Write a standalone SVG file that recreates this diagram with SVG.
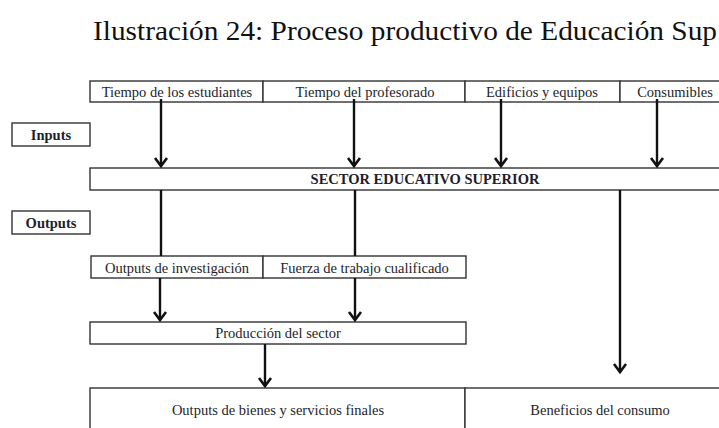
<svg xmlns="http://www.w3.org/2000/svg" width="719" height="428" viewBox="0 0 719 428">
<style>
.box{fill:#fff;stroke:#333;stroke-width:1.4}
.t{font-family:"Liberation Serif","Times New Roman",serif;font-size:14.5px;fill:#1e1e2a;text-anchor:middle}
.b{font-weight:bold}
.title{font-family:"Liberation Serif","Times New Roman",serif;font-size:28px;fill:#111}
.ln{stroke:#111;stroke-width:2.4;fill:none}
.arr{stroke:#111;stroke-width:2.4;fill:none;marker-end:url(#ah)}
</style>
<defs>
<marker id="ah" markerUnits="userSpaceOnUse" markerWidth="14" markerHeight="16" viewBox="-11 -8 14 16" refX="0" refY="0" orient="auto">
<path d="M-8,-6 L0,0 L-8,6" fill="none" stroke="#111" stroke-width="2.6" stroke-linejoin="miter"/>
</marker>
</defs>
<text class="title" x="93" y="40" textLength="624" lengthAdjust="spacingAndGlyphs">Ilustración 24: Proceso productivo de Educación Sup</text>

<g id="inputs-row">
<g id="n-estudiantes"><rect class="box" x="90" y="81" width="173" height="21"/><text class="t" x="177" y="97">Tiempo de los estudiantes</text></g>
<g id="n-profesorado"><rect class="box" x="263" y="81" width="202" height="21"/><text class="t" x="365" y="97">Tiempo del profesorado</text></g>
<g id="n-edificios"><rect class="box" x="465" y="81" width="155" height="21"/><text class="t" x="542" y="97">Edificios y equipos</text></g>
<g id="n-consumibles"><rect class="box" x="620" y="81" width="110" height="21"/><text class="t" x="675" y="97">Consumibles</text></g>
</g>
<g id="n-inputs"><rect class="box" x="12" y="123" width="78" height="23"/><text class="t b" x="51" y="140">Inputs</text></g>
<g id="n-sector"><rect class="box" x="90" y="168" width="640" height="22"/><text class="t b" x="425" y="184">SECTOR EDUCATIVO SUPERIOR</text></g>
<g id="n-outputs"><rect class="box" x="12" y="211" width="78" height="23"/><text class="t b" x="51" y="228">Outputs</text></g>
<g id="n-investigacion"><rect class="box" x="91" y="256" width="172" height="22"/><text class="t" x="177" y="273">Outputs de investigación</text></g>
<g id="n-fuerza"><rect class="box" x="263" y="256" width="203" height="22"/><text class="t" x="364.5" y="273">Fuerza de trabajo cualificado</text></g>
<g id="n-produccion"><rect class="box" x="90" y="322" width="376" height="22"/><text class="t" x="278" y="338">Producción del sector</text></g>
<g id="n-bienes"><rect class="box" x="90" y="388" width="375" height="50"/><text class="t" x="278" y="415">Outputs de bienes y servicios finales</text></g>
<g id="n-beneficios"><rect class="box" x="465" y="388" width="270" height="50"/><text class="t" x="600" y="415">Beneficios del consumo</text></g>

<g id="connectors">
<path class="arr" d="M161,99 V166"/>
<path class="arr" d="M354,99 V166"/>
<path class="arr" d="M501,99 V166"/>
<path class="arr" d="M657,99 V166"/>
<path class="ln" d="M161,190 V256"/>
<path class="ln" d="M355,190 V256"/>
<path class="arr" d="M160,278 V320"/>
<path class="arr" d="M355,278 V320"/>
<path class="arr" d="M265,344 V386"/>
<path class="arr" d="M620,190 V372"/>
</g>
</svg>
